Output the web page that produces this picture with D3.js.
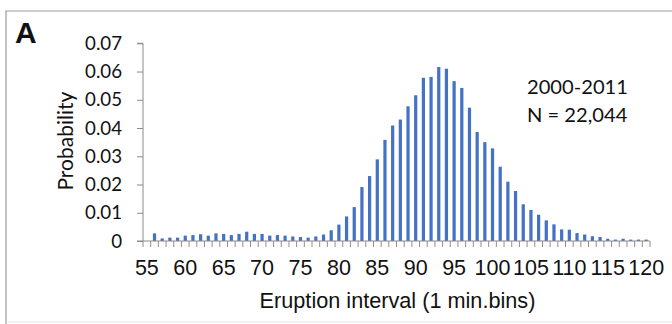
<!DOCTYPE html>
<html>
<head>
<meta charset="utf-8">
<script src="https://cdn.jsdelivr.net/npm/d3@7"></script>
<style>
  html, body { margin: 0; padding: 0; background: #fff; }
  svg { display: block; }
</style>
</head>
<body>
<svg id="chart" width="672" height="324"></svg>
<script>
// ---- data ----
const categories = d3.range(55, 121); // eruption interval, 1-min bins (55..120)
const probability = [
  0.0000, 0.0027, 0.0009, 0.0012, 0.0012, 0.0019, 0.0021, 0.0024, 0.0019, 0.0027, // 55-64
  0.0025, 0.0021, 0.0025, 0.0033, 0.0025, 0.0025, 0.0019, 0.0021, 0.0019, 0.0016, // 65-74
  0.0014, 0.0012, 0.0016, 0.0023, 0.0038, 0.0058, 0.0087, 0.0120, 0.0191, 0.0230, // 75-84
  0.0289, 0.0358, 0.0409, 0.0430, 0.0477, 0.0516, 0.0578, 0.0581, 0.0616, 0.0610, // 85-94
  0.0566, 0.0542, 0.0472, 0.0386, 0.0350, 0.0328, 0.0263, 0.0210, 0.0177, 0.0130, // 95-104
  0.0110, 0.0093, 0.0073, 0.0059, 0.0041, 0.0040, 0.0028, 0.0023, 0.0017, 0.0014, // 105-114
  0.0008, 0.0005, 0.0008, 0.0005, 0.0005, 0.0005                                  // 115-120
];
const yTicks = [0, 0.01, 0.02, 0.03, 0.04, 0.05, 0.06, 0.07];
const yTickLabels = ["0", "0.01", "0.02", "0.03", "0.04", "0.05", "0.06", "0.07"];
const xLabelCategories = [55, 60, 65, 70, 75, 80, 85, 90, 95, 100, 105, 110, 115, 120];
const yTitle = "Probability";
const xTitle = "Eruption interval (1 min.bins)";
const panelLabel = "A";
const noteLines = ["2000-2011", "N = 22,044"];

// ---- layout ----
const svg = d3.select("#chart");
const plot = { left: 143, right: 650, top: 43.3, bottom: 241 };
const axisColor = "#8a8a8a";
const barColor = "#4472C4";
const sansA = "'Liberation Sans', Arial, sans-serif";
const sansC = "Lato, 'Open Sans', sans-serif";

// scale a text's font size so that its rendered width matches a target width
function fitWidth(sel, target) {
  const node = sel.node();
  const fs = parseFloat(sel.attr("font-size"));
  const w = node.getComputedTextLength();
  if (w > 0) sel.attr("font-size", (fs * target / w).toFixed(2));
  return sel;
}

// frame
svg.append("path")
  .attr("d", `M6,324 L6,11 L672,11`)
  .attr("fill", "none").attr("stroke", "#9a9a9a").attr("stroke-width", 1.2);
svg.append("line")
  .attr("x1", 6).attr("x2", 672).attr("y1", 322).attr("y2", 322)
  .attr("stroke", "#e4e4e4").attr("stroke-width", 1);

const x = d3.scaleBand()
  .domain(categories)
  .range([plot.left, plot.right])
  .paddingInner(0.58)
  .paddingOuter(0.29);

const y = d3.scaleLinear()
  .domain([0, 0.07])
  .range([plot.bottom, plot.top]);

// bars
svg.append("g").selectAll("rect")
  .data(categories.map((c, i) => ({ c, v: probability[i] })))
  .join("rect")
  .attr("x", d => x(d.c))
  .attr("width", x.bandwidth())
  .attr("y", d => y(d.v))
  .attr("height", d => y(0) - y(d.v))
  .attr("fill", barColor);

// y axis
const yAxis = d3.axisLeft(y)
  .tickValues(yTicks)
  .tickSize(6)
  .tickPadding(15)
  .tickFormat((d, i) => yTickLabels[i]);
const gy = svg.append("g")
  .attr("transform", `translate(${plot.left},0)`)
  .call(yAxis);
gy.select(".domain").attr("stroke", axisColor).attr("d", `M-6,${plot.top}H0V${plot.bottom}`);
gy.selectAll(".tick line").attr("stroke", axisColor);
gy.selectAll(".tick text")
  .attr("font-family", sansC)
  .attr("font-size", 17.5)
  .attr("fill", "#111");
// size the y tick font so "0.07" is ~37px wide
{
  const t = gy.selectAll(".tick text").filter((d, i) => i === yTicks.length - 1);
  const w = t.node().getComputedTextLength();
  const fs = 17.5 * 37 / w;
  gy.selectAll(".tick text").attr("font-size", fs.toFixed(2));
}

// x axis line
svg.append("line")
  .attr("x1", plot.left - 6).attr("x2", plot.right)
  .attr("y1", plot.bottom).attr("y2", plot.bottom)
  .attr("stroke", axisColor).attr("stroke-width", 1);

// x tick marks at category boundaries
const step = x.step();
const boundaries = categories.map(c => x(c) - x.paddingOuter() * step)
  .concat([x(categories[categories.length - 1]) - x.paddingOuter() * step + step]);
svg.append("g").selectAll("line")
  .data(boundaries)
  .join("line")
  .attr("x1", d => d).attr("x2", d => d)
  .attr("y1", plot.bottom).attr("y2", plot.bottom + 6)
  .attr("stroke", "#9a8a80").attr("stroke-width", 1);

// x tick labels
const xl = svg.append("g").selectAll("text")
  .data(xLabelCategories)
  .join("text")
  .attr("x", d => x(d) + x.bandwidth() / 2)
  .attr("y", 274.5)
  .attr("text-anchor", "middle")
  .attr("font-family", sansA)
  .attr("font-size", 21.5)
  .attr("fill", "#111")
  .text(d => d);

// axis titles
fitWidth(svg.append("text")
  .attr("x", (plot.left + plot.right) / 2 + 1)
  .attr("y", 307.5)
  .attr("text-anchor", "middle")
  .attr("font-family", sansA)
  .attr("font-size", 20)
  .attr("fill", "#111")
  .text(xTitle), 276);

fitWidth(svg.append("text")
  .attr("transform", `translate(73,${(plot.top + plot.bottom) / 2 - 1}) rotate(-90)`)
  .attr("text-anchor", "middle")
  .attr("font-family", sansC)
  .attr("font-size", 18)
  .attr("fill", "#111")
  .text(yTitle), 99);

// panel label
svg.append("text")
  .attr("x", 15).attr("y", 43)
  .attr("font-family", sansA)
  .attr("font-weight", "bold")
  .attr("font-size", 30)
  .attr("fill", "#111")
  .text(panelLabel);

// annotation
const notes = svg.append("g").selectAll("text")
  .data(noteLines)
  .join("text")
  .attr("x", 527)
  .attr("y", (d, i) => 93.5 + i * 28.3)
  .attr("font-family", sansC)
  .attr("font-size", 19.5)
  .attr("fill", "#111")
  .text(d => d);
{
  const w = notes.filter((d, i) => i === 0).node().getComputedTextLength();
  notes.attr("font-size", (19.5 * 101 / w).toFixed(2));
}
</script>
</body>
</html>
